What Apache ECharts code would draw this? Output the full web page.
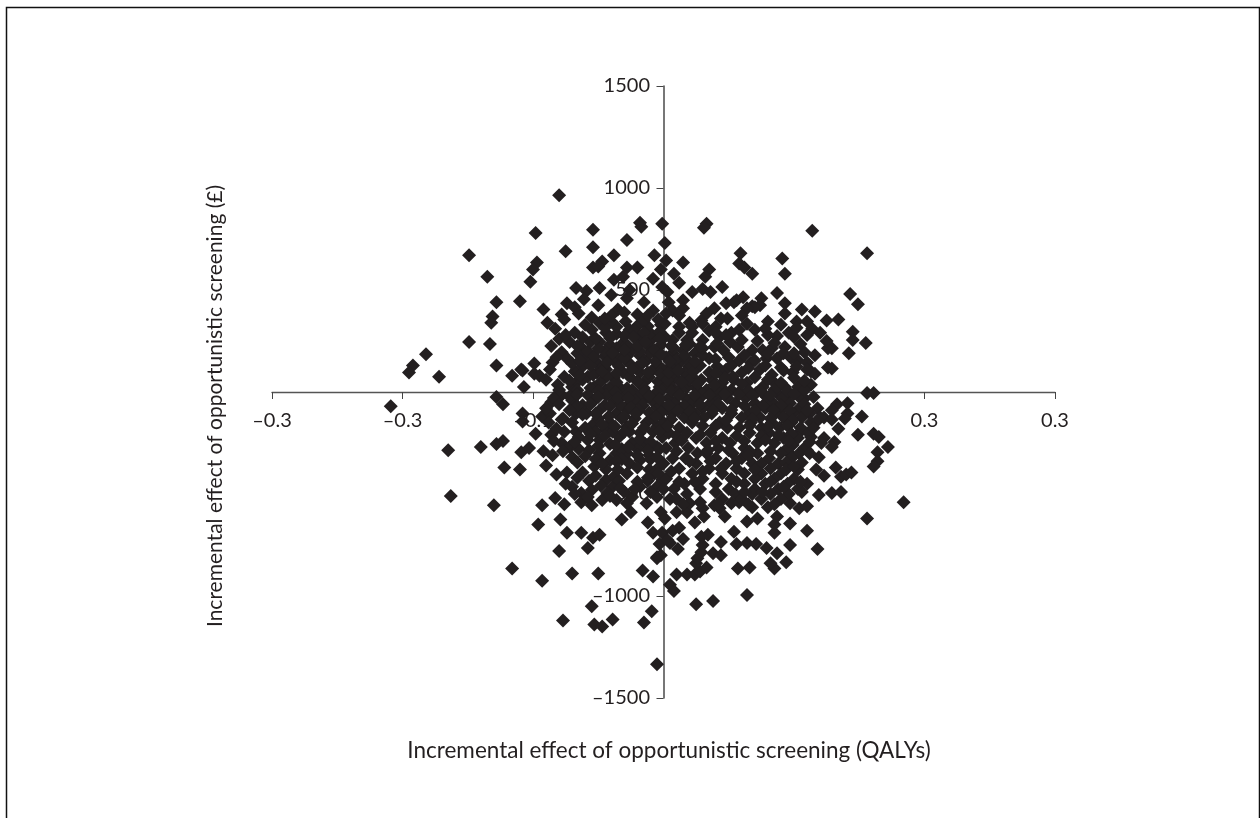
<!DOCTYPE html>
<html><head><meta charset="utf-8">
<style>html,body{margin:0;padding:0;background:#fff}#c{width:1260px;height:818px}</style>
<script src="https://cdn.jsdelivr.net/npm/echarts@6/dist/echarts.min.js"></script>
</head><body><div id="c"></div>
<script>
const xTickLabels=['\u20130.3','\u20130.3','\u20130.1','0','0.1','0.3','0.3'];
const yTickLabels=['\u20131500','\u20131000','\u2013500','0','500','1000','1500'];
const xTitle='Incremental effect of opportunistic screening (QALYs)';
const yTitle='Incremental effect of opportunistic screening (\u00a3)';
// [QALY effect, cost effect]
const upperLeft=[[-.080,965],[-.098,780],[-.054,795],[-.018,830],[-.017,810],[-.001,825],[-.075,690],[-.054,710],[-.028,745],[-.038,670],[-.007,670],[-.149,670],[-.135,565],
[-.097,635],[-.100,600],[-.102,540],[-.047,640],[-.054,610],[-.050,615],[-.028,610],[-.020,610],[-.002,600],[-.008,555],[-.038,550],[-.031,565],[-.128,440],[-.110,445],
[-.067,510],[-.059,495],[-.061,455],[-.049,510],[-.040,475],[-.028,460],[-.026,500],[-.015,440],[-.001,515],[-.092,405],[-.074,435],[-.068,415],[-.149,245],[-.133,235],
[-.131,370],[-.132,340],[-.128,130],[-.099,140],[-.109,110],[-.192,130],[-.195,95],[-.172,75],[-.182,185],[-.116,80],[-.108,105],[-.099,90],[-.107,25],
[-.050,425],[-.035,405],[-.078,380],[-.089,340],[-.083,310],[-.076,355],[-.055,365],[-.055,305],[-.049,340],[-.029,345],[-.020,380],[-.008,400],[-.002,330],
[-.068,290],[-.072,245],[-.064,225],[-.086,225],[-.078,195],[-.044,290],[-.049,245],[-.036,215],[-.026,305],[-.018,265],[-.008,265],[-.031,240],[-.060,165],[-.074,165],
[-.085,145],[-.087,110],[-.081,35],[-.068,100],[-.076,75],[-.051,145],[-.044,110],[-.038,70],[-.051,95],[-.062,60],[-.070,25],[-.053,25],
[-.038,155],[-.026,140],[-.013,155],[-.005,180],[-.024,205],[-.034,25],[-.024,10],[-.013,60],[-.003,25],[-.044,10],[-.018,95],[-.008,110],[-.031,95],
[-.056,20],[-.041,22],[-.028,18],[-.015,20],[-.066,50],[-.048,50],[-.036,48],[-.020,52],[-.004,50],[-.058,75],[-.043,78],[-.026,75],[-.011,72],
[-.062,125],[-.046,128],[-.034,125],[-.020,122],[-.003,125],[-.045,175],[-.032,172],[-.018,178],[-.041,230],[-.028,232],[-.012,228],[-.002,230],[-.066,190],[-.010,192],[-.036,285],[-.010,288],[-.036,320],[-.012,322],[-.058,200],[-.045,200],[-.020,325],[-.040,345],[-.015,350]];
const upperRight=[[.033,825],[.031,805],[.114,790],[.156,680],[.001,730],[.002,645],[.015,635],[.008,580],[.012,535],[.035,600],[.032,565],[.059,680],[.058,630],[.062,610],[.068,580],
[.091,655],[.093,580],[.045,515],[.022,490],[.030,505],[.036,490],[.003,490],[.004,440],[.015,450],[.015,410],[.087,485],[.143,480],[.149,430],
[.075,460],[.074,425],[.068,420],[.061,465],[.056,450],[.048,435],[.093,435],[.093,385],[.106,405],[.116,395],[.125,350],[.134,355],[.145,295],[.145,255],[.155,240],[.142,190],[.129,215],
[.129,115],[.113,100],[.113,35],[.102,345],[.110,345],[.114,310],[.080,345],[.096,290],[.087,275],[.080,280],[.102,315],[.126,215],[.126,120],[.108,195],[.116,180],[.093,220],[.083,215],[.076,205],[.068,205],
[.058,155],[.067,145],[.079,165],[.087,165],[.098,165],[.103,155],[.110,145],[.090,120],[.099,95],[.116,90],[.110,110],[.083,85],[.074,110],[.103,25],[.093,25],[.085,45],[.076,25],[.064,45],[.054,60],[.045,45],[.037,60],
[.007,400],[.012,375],[.020,340],[.001,335],[.002,385],[.054,440],[.039,410],[.033,385],[.029,350],[.070,415],[.064,410],[.060,375],[.064,335],[.030,335],[.035,300],[.044,360],[.049,360],[.052,290],[.058,305],
[.043,270],[.051,245],[.057,220],[.039,220],[.030,255],[.022,290],[.018,255],[.012,290],[.007,255],[.001,270],[.024,190],[.015,205],[.007,190],[.002,170],[.035,165],[.030,180],[.041,125],[.048,110],[.053,75],
[.012,140],[.020,125],[.028,130],[.005,125],[-.001,110],[.035,95],[.029,60],[.022,75],[.016,95],[.008,75],[.033,10],[.025,20],[.018,25],[.007,20],[-.001,10],[.044,25],[.052,10],[.058,0],
[.156,-5],[.161,-5],[.012,55],[.004,40],[.020,60],[.045,85],[.060,95],[.010,160],[.062,180]];
const lowerLeft=[[-.209,-70],[-.128,-25],[-.123,-60],[-.108,-105],[-.108,-145],[-.093,-120],[-.098,-205],[-.086,-50],[-.087,-105],[-.077,-130],[-.165,-285],[-.140,-270],[-.128,-255],[-.123,-240],[-.109,-295],[-.103,-275],[-.092,-290],
[-.122,-370],[-.110,-380],[-.090,-360],[-.163,-510],[-.130,-555],[-.093,-555],[-.096,-650],[-.079,-625],[-.083,-520],[-.076,-550],[-.063,-540],[-.055,-555],[-.074,-690],[-.063,-690],[-.054,-715],[-.049,-700],[-.080,-780],[-.058,-765],
[-.082,-405],[-.074,-395],[-.070,-465],[-.075,-450],[-.057,-435],[-.032,-625],[-.025,-590],[-.012,-640],[-.008,-690],[-.005,-810],[-.116,-865],[-.093,-925],[-.070,-890],[-.050,-890],[-.016,-875],[-.008,-905],
[-.055,-1050],[-.009,-1075],[-.077,-1120],[-.053,-1140],[-.047,-1150],[-.039,-1115],[-.015,-1130],[-.005,-1335],[-.002,-800],[-.005,-815],[-.003,-745],[-.002,-590],[-.001,-690],
[-.086,-210],[-.063,-495],[-.055,-480],[-.044,-430],[-.039,-465],[-.043,-495],[-.036,-530],[-.047,-530],[-.053,-365],[-.078,-250],[-.072,-270],[-.076,-195],[-.067,-195],[-.070,-320],[-.066,-345],
[-.057,-285],[-.049,-300],[-.041,-335],[-.036,-300],[-.058,-235],[-.049,-235],[-.078,-135],[-.067,-105],[-.070,-150],[-.054,-160],[-.044,-185],[-.059,-105],[-.049,-90],[-.036,-105],[-.041,-150],
[-.028,-170],[-.018,-200],[-.034,-220],[-.024,-250],[-.013,-150],[-.005,-170],[-.001,-220],[-.005,-270],[-.026,-55],[-.013,-25],[-.005,-75],[-.028,-90],
[-.028,-300],[-.018,-335],[-.011,-310],[-.026,-350],[-.011,-380],[-.003,-365],[-.001,-430],[-.018,-465],[-.005,-465],[-.024,-515],[-.013,-545],[-.005,-515],[-.028,-545],[-.044,-380],[-.038,-415],
[-.078,-15],[-.058,-15],[-.044,-15],[-.031,-15],[-.018,-15],[-.006,-15],[-.070,-40],[-.053,-40],[-.038,-40],[-.022,-40],[-.009,-40],[-.062,-65],[-.045,-65],[-.033,-65],[-.016,-65],[-.002,-65],
[-.050,-130],[-.032,-130],[-.022,-130],[-.008,-130],[-.052,-195],[-.039,-195],[-.026,-195],[-.008,-195],[-.041,-255],[-.014,-255],[-.065,-280],[-.032,-280],[-.020,-280],[-.003,-280],[-.052,-330],[-.032,-330],[-.010,-330],[-.028,-400],[-.007,-400],[-.034,-435],[-.012,-435],[-.030,-490],[-.010,-490]];
const lowerRight=[[.005,-945],[.008,-975],[.010,-895],[.025,-1040],[.038,-1025],[.064,-995],[.018,-895],[.024,-895],[.028,-880],[.033,-860],[.025,-840],[.026,-815],[.057,-865],[.066,-860],[.085,-865],[.082,-840],[.094,-835],[.087,-790],[.079,-765],
[.038,-790],[.044,-800],[.029,-785],[.030,-750],[.056,-745],[.064,-740],[.071,-745],[.097,-750],[.118,-770],[.011,-770],[.005,-740],[.044,-735],[.010,-590],[.018,-590],[.001,-620],[.030,-570],[.031,-610],[.024,-640],[.012,-665],[.007,-680],
[.003,-725],[.015,-720],[.034,-700],[.029,-710],[.054,-685],[.110,-680],[.097,-645],[.085,-690],[.085,-650],[.087,-610],[.064,-635],[.072,-620],[.068,-565],[.080,-565],[.047,-610],[.043,-570],[.039,-555],[.097,-545],[.104,-570],[.110,-560],[.052,-545],[.058,-540],[.020,-545],[.028,-540],
[.133,-60],[.141,-55],[.152,-120],[.141,-105],[.139,-130],[.129,-90],[.123,-125],[.129,-135],[.134,-180],[.149,-210],[.161,-205],[.165,-220],[.172,-270],[.164,-295],[.164,-340],[.161,-365],[.123,-225],[.131,-245],[.129,-270],[.113,-220],[.104,-200],
[.110,-285],[.099,-260],[.098,-310],[.119,-320],[.117,-380],[.123,-410],[.132,-370],[.103,-380],[.136,-415],[.140,-405],[.144,-395],[.129,-495],[.136,-490],[.119,-505],[.110,-450],[.106,-490],[.184,-540],[.156,-620],[.071,-5],[.079,-25],[.087,-5],[.095,-15],[.104,-25],
[.004,-30],[.017,-30],[.028,-30],[.041,-30],[.049,-30],[.063,-30],[.091,-32],[.108,-32],[.009,-55],[.022,-55],[.036,-55],[.055,-55],[.070,-55],[.084,-55],[.097,-55],[.002,-80],[.014,-80],[.030,-80],[.045,-80],[.078,-80],[.091,-80],[.104,-80],[.118,-80],
[.007,-105],[.024,-105],[.037,-105],[.052,-105],[.066,-105],[.085,-105],[.099,-105],[.112,-105],[.016,-125],[.031,-125],[.060,-125],[.074,-125],[.092,-125],[.106,-125],[.120,-125],[.000,-150],[.022,-150],[.043,-150],[.067,-150],[.083,-150],[.098,-150],[.113,-150],
[.012,-175],[.049,-175],[.058,-175],[.075,-175],[.089,-175],[.105,-175],[.004,-200],[.018,-200],[.036,-200],[.066,-200],[.081,-200],[.111,-200],[.025,-225],[.045,-225],[.092,-225],[.103,-225],[.009,-250],[.033,-250],[.051,-250],[.072,-250],[.085,-250],[.121,-250],
[.002,-275],[.019,-275],[.042,-275],[.062,-275],[.095,-275],[.108,-275],[.026,-300],[.033,-300],[.053,-300],[.072,-300],[.090,-300],[.104,-300],[.007,-325],[.017,-325],[.040,-325],[.060,-325],[.081,-325],[.098,-325],[.000,-350],[.025,-350],[.048,-350],[.068,-350],[.075,-350],[.088,-350],
[.012,-375],[.035,-375],[.056,-375],[.082,-375],[.022,-400],[.045,-400],[.062,-400],[.075,-400],[.090,-400],[.002,-425],[.030,-425],[.052,-425],[.070,-425],[.085,-425],[.100,-425],[.016,-450],[.040,-450],[.062,-450],[.078,-450],[.095,-450],
[.000,-475],[.008,-475],[.028,-475],[.050,-475],[.070,-475],[.088,-475],[.103,-475],[.018,-500],[.055,-500],[.068,-500],[.082,-500],[.096,-500],[.005,-525],[.010,-525],[.045,-525],[.060,-525],[.075,-525],[.090,-525],[.015,-550],[.042,-550],[.065,-550],[.085,-550]];
const denseUpperLeft=[[-.095,80],[-.090,60],[-.072,55],[-.064,82],[-.054,85],[-.047,100],[-.036,92],[-.024,110],[-.012,95],[-.002,88],[-.080,10],[-.066,8],[-.050,5],[-.037,0],[-.026,-2],[-.014,3],[-.005,0],
[-.082,170],[-.070,140],[-.064,155],[-.056,130],[-.053,175],[-.039,190],[-.028,175],[-.018,200],[-.006,150],[-.043,145],[-.030,168],[-.016,142],[-.080,260],[-.066,225],[-.056,245],[-.050,215],[-.030,205],[-.020,225],[-.007,205],[-.002,185],
[-.060,330],[-.045,315],[-.030,275],[-.022,300],[-.015,290],[-.003,295],[-.040,375],[-.030,390],[-.012,375],[-.004,355],[-.065,385],[-.045,360],[-.075,280],[-.062,268],[-.052,262],[-.041,265],[-.023,270],[-.014,245],[-.003,262]];
const denseUpperRight=[[.006,5],[.013,12],[.028,3],[.040,8],[.048,-2],[.065,8],[.075,2],[.085,12],[.095,5],[.108,8],[.003,60],[.014,48],[.026,40],[.039,35],[.047,70],[.060,40],[.070,72],[.080,60],[.090,45],[.100,70],[.108,55],
[.004,95],[.011,105],[.023,100],[.040,92],[.052,130],[.065,118],[.078,130],[.092,105],[.102,125],[.005,150],[.017,165],[.024,150],[.040,160],[.050,170],[.070,155],[.080,190],[.092,190],[.100,190],
[.008,215],[.016,180],[.020,235],[.030,215],[.046,205],[.048,280],[.060,255],[.072,250],[.085,240],[.105,235],[.100,270],[.012,320],[.022,320],[.040,320],[.040,290],[.070,305],[.078,310],[.090,330],[.110,280],[.120,290],[.125,250],[.006,225],[.017,232],[.028,222],[.041,238]];
const denseLowerLeft=[[-.084,-30],[-.072,-22],[-.066,-12],[-.050,-25],[-.035,-28],[-.027,-30],[-.011,-20],[-.003,-35],[-.080,-60],[-.066,-70],[-.056,-60],[-.041,-70],[-.025,-75],[-.019,-90],[-.011,-100],[-.002,-100],
[-.090,-80],[-.072,-90],[-.062,-110],[-.052,-105],[-.042,-120],[-.030,-120],[-.021,-105],[-.006,-120],[-.088,-150],[-.082,-180],[-.060,-175],[-.047,-160],[-.037,-170],[-.024,-155],[-.015,-175],
[-.084,-240],[-.065,-220],[-.056,-205],[-.045,-215],[-.030,-195],[-.018,-230],[-.010,-245],[-.003,-190],[-.085,-310],[-.077,-290],[-.068,-245],[-.050,-265],[-.037,-260],[-.027,-270],[-.012,-285],
[-.060,-315],[-.047,-350],[-.036,-340],[-.020,-310],[-.005,-320],[-.062,-395],[-.052,-410],[-.035,-380],[-.020,-370],[-.012,-420],[-.066,-420],[-.048,-460],[-.033,-470],[-.020,-440],[-.004,-400],[-.068,-500],[-.058,-515],[-.022,-475],[-.041,-510]];
const denseLowerRight=[[.012,-15],[.024,-15],[.035,-15],[.047,-10],[.058,-12],[.068,-15],[.082,-15],[.100,-10],[.115,-25],[.004,-65],[.016,-68],[.028,-62],[.042,-60],[.062,-68],[.076,-68],[.090,-68],[.108,-60],
[.011,-92],[.020,-95],[.038,-90],[.052,-88],[.070,-90],[.084,-88],[.097,-92],[.110,-90],[.006,-135],[.024,-128],[.048,-138],[.068,-132],[.082,-130],[.099,-138],[.118,-140],[.003,-165],[.030,-165],[.040,-165],[.066,-165],[.080,-170],[.095,-165],[.115,-175],
[.010,-215],[.028,-210],[.056,-215],[.075,-215],[.088,-212],[.098,-205],[.014,-238],[.040,-240],[.062,-240],[.078,-235],[.096,-240],[.112,-245],[.010,-290],[.034,-285],[.050,-285],[.066,-290],[.082,-290],[.112,-300],
[.020,-340],[.036,-340],[.056,-340],[.065,-310],[.094,-345],[.106,-345],[.006,-390],[.030,-390],[.044,-375],[.070,-380],[.094,-380],[.100,-365],[.012,-440],[.024,-440],[.056,-440],[.082,-440],[.105,-440],[.040,-490],[.062,-490],[.076,-490],[.092,-465]];
const points=[...upperLeft,...upperRight,...lowerLeft,...lowerRight,...denseUpperLeft,...denseUpperRight,...denseLowerLeft,...denseLowerRight];
const ink='#231f20', font='Lato';
const chart=echarts.init(document.getElementById('c'),null,{renderer:'canvas'});
chart.setOption({
  animation:false,backgroundColor:'#fff',
  grid:{left:272,right:205,top:86,bottom:120,containLabel:false,outerBoundsMode:'none'},
  graphic:[{type:'rect',silent:true,shape:{x:6.5,y:7.5,width:1253,height:840},style:{fill:'none',stroke:'#111',lineWidth:1.5}}],
  xAxis:{type:'value',min:-0.3,max:0.3,interval:0.1,splitLine:{show:false},
    axisLine:{onZero:true,lineStyle:{color:'#555',width:1.4}},
    axisTick:{length:7,lineStyle:{color:'#444',width:1}},
    axisLabel:{margin:-287,color:ink,fontFamily:font,fontSize:20,showMinLabel:true,showMaxLabel:true,
      formatter:v=>xTickLabels[Math.round((v+0.3)/0.1)]},
    name:xTitle,nameLocation:'middle',nameGap:41,
    nameTextStyle:{color:ink,fontFamily:font,fontSize:22.5,padding:[0,0,0,11]}},
  yAxis:{type:'value',min:-1500,max:1500,interval:500,splitLine:{show:false},
    axisLine:{onZero:true,lineStyle:{color:'#555',width:1.6}},
    axisTick:{length:7,lineStyle:{color:'#444',width:1}},
    axisLabel:{margin:-378,color:ink,fontFamily:font,fontSize:20,showMinLabel:true,showMaxLabel:true,
      formatter:v=>yTickLabels[Math.round((v+1500)/500)]},
    name:yTitle,nameLocation:'middle',nameGap:46,
    nameTextStyle:{color:ink,fontFamily:font,fontSize:21,padding:[0,28,0,0]}},
  series:[{type:'scatter',data:points,symbol:'diamond',symbolSize:14,
    itemStyle:{color:ink,borderWidth:0,opacity:1},large:false,silent:true}]
});
</script></body></html>
